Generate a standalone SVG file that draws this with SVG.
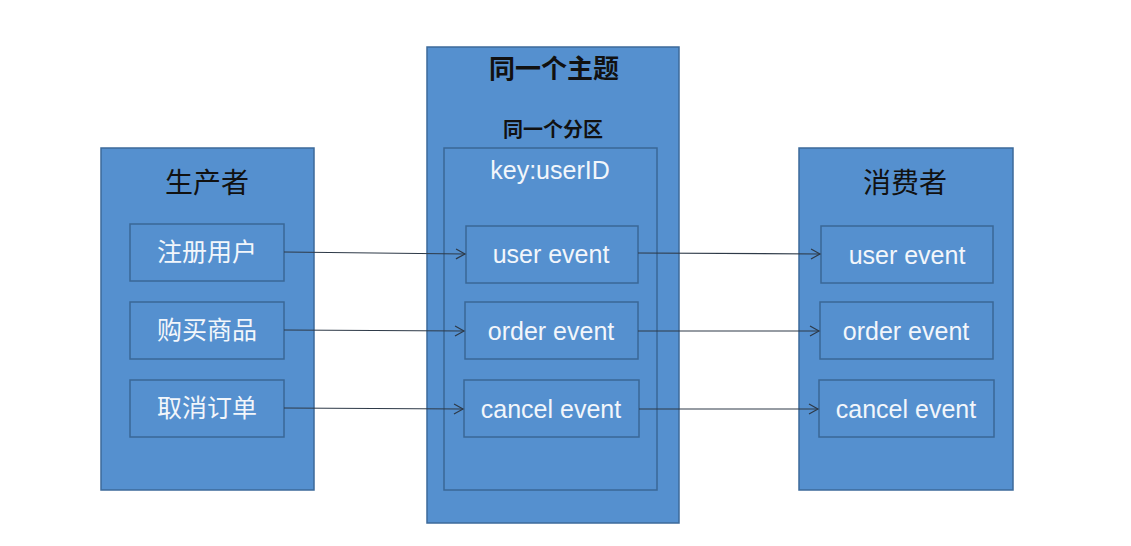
<svg xmlns="http://www.w3.org/2000/svg" width="1131" height="546" viewBox="0 0 1131 546">
<style>
.box{fill:#5590cf;stroke:#3c6a9a;stroke-width:1.5}
.inner{fill:#5590cf;stroke:#3a6797;stroke-width:1.5}
.title{font-family:"Liberation Sans","Noto Sans CJK SC",sans-serif;fill:#111;text-anchor:middle}
.lbl{font-family:"Liberation Sans","Noto Sans CJK SC",sans-serif;fill:#f2f6fb;text-anchor:middle;font-size:25px}
.conn{stroke:#2e3a48;stroke-width:1.2;fill:none;marker-end:url(#arr)}
</style>
<defs>
<marker id="arr" markerWidth="12" markerHeight="12" refX="10" refY="6" orient="auto" markerUnits="userSpaceOnUse">
<path d="M1,1 L10,6 L1,11" fill="none" stroke="#2e3a48" stroke-width="1.2"/>
</marker>
</defs>
<rect width="1131" height="546" fill="#ffffff"/>
<g id="producer">
<rect class="box" x="101" y="148" width="213" height="342"/>
<text class="title" x="207" y="193" font-size="28">生产者</text>
</g>
<g id="p-register"><rect class="inner" x="130" y="224" width="154" height="57"/><text class="lbl" x="207" y="261">注册用户</text></g>
<g id="p-buy"><rect class="inner" x="130" y="302" width="154" height="57"/><text class="lbl" x="207" y="339">购买商品</text></g>
<g id="p-cancel"><rect class="inner" x="130" y="380" width="154" height="57"/><text class="lbl" x="207" y="417">取消订单</text></g>
<g id="topic">
<rect class="box" x="427" y="47" width="252" height="476"/>
<text class="title" x="554" y="78" font-size="26" font-weight="bold">同一个主题</text>
<text class="title" x="553" y="137" font-size="20" font-weight="bold">同一个分区</text>
</g>
<g id="partition">
<rect class="inner" x="444" y="148" width="213" height="342"/>
<text class="lbl" x="550" y="179">key:userID</text>
</g>
<g id="t-user"><rect class="inner" x="466" y="226" width="172" height="57"/><text class="lbl" x="551" y="263">user event</text></g>
<g id="t-order"><rect class="inner" x="465" y="302" width="173" height="57"/><text class="lbl" x="551" y="340">order event</text></g>
<g id="t-cancel"><rect class="inner" x="464" y="380" width="175" height="57"/><text class="lbl" x="551" y="418">cancel event</text></g>
<g id="consumer">
<rect class="box" x="799" y="148" width="214" height="342"/>
<text class="title" x="905" y="193" font-size="28">消费者</text>
</g>
<g id="c-user"><rect class="inner" x="821" y="226" width="172" height="57"/><text class="lbl" x="907" y="264">user event</text></g>
<g id="c-order"><rect class="inner" x="820" y="302" width="173" height="57"/><text class="lbl" x="906" y="340">order event</text></g>
<g id="c-cancel"><rect class="inner" x="819" y="380" width="175" height="57"/><text class="lbl" x="906" y="418">cancel event</text></g>
<g id="connectors">
<line class="conn" x1="284" y1="252" x2="465" y2="254"/>
<line class="conn" x1="284" y1="330" x2="464" y2="331"/>
<line class="conn" x1="284" y1="408" x2="463" y2="409"/>
<line class="conn" x1="638" y1="253" x2="820" y2="254"/>
<line class="conn" x1="638" y1="331" x2="819" y2="331"/>
<line class="conn" x1="639" y1="409" x2="818" y2="409"/>
</g>
</svg>
